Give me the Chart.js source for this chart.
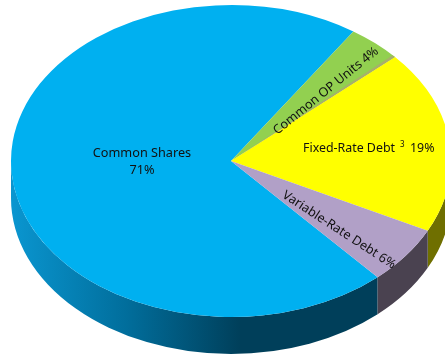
<!DOCTYPE html>
<html>
<head>
<meta charset="utf-8">
<script src="https://cdn.jsdelivr.net/npm/chart.js@4"></script>
<style>
    html,body{margin:0;padding:0;background:#fff;}
    #wrap{width:445px;height:361px;overflow:hidden;}
</style>
</head>
<body>
<div id="wrap"><canvas id="capChart" width="445" height="361"></canvas></div>
<script>
const categories = ['Common Shares','Common OP Units','Fixed-Rate Debt','Variable-Rate Debt'];
const shares = [71,4,19,6];
const topColors = ['#00B0F0','#92D050','#FFFF00','#B1A0C7'];
const wallColors = ['#003F5A','#4F7A2B','#6F6F00','#4A4250'];

// the pie is squashed vertically to look tilted
const tilt = 0.709;
const depth = 37;

function squash(chart){
    const arc = chart.getDatasetMeta(0).data[0];
    const ctx = chart.ctx;
    ctx.translate(arc.x,arc.y);
    ctx.scale(1,tilt);
    ctx.translate(-arc.x,-arc.y);
}

function drawWalls(chart){
    const ctx = chart.ctx;
    chart.getDatasetMeta(0).data.forEach((arc,i)=>{
        const r = arc.outerRadius;
        const ry = r*tilt;
        // only the part facing the viewer is visible, between 0 and PI
        for(const turn of [0,2*Math.PI]){
            const a0 = Math.max(arc.startAngle-turn,0);
            const a1 = Math.min(arc.endAngle-turn,Math.PI);
            if(a1<=a0) continue;
            ctx.beginPath();
            ctx.ellipse(arc.x,arc.y,r,ry,0,a0,a1);
            ctx.ellipse(arc.x,arc.y+depth,r,ry,0,a1,a0,true);
            ctx.closePath();
            if(i===0){
                const g = ctx.createLinearGradient(arc.x-r,0,arc.x+10,0);
                g.addColorStop(0,'#0A96D0');
                g.addColorStop(0.5,'#016E9C');
                g.addColorStop(1,wallColors[0]);
                ctx.fillStyle = g;
            }else{
                ctx.fillStyle = wallColors[i];
            }
            ctx.fill();
        }
    });
}

// thin grey sliver along the edge between OP units and fixed debt
function drawSliver(chart){
    const ctx = chart.ctx;
    const arc = chart.getDatasetMeta(0).data[1];
    ctx.beginPath();
    ctx.moveTo(arc.x,arc.y);
    ctx.arc(arc.x,arc.y,arc.outerRadius,arc.endAngle-0.016,arc.endAngle);
    ctx.closePath();
    ctx.fillStyle = '#A8B06A';
    ctx.fill();
}

const pie3d = {
    id:'pie3d',
    beforeDatasetsDraw(chart){
        drawWalls(chart);
        chart.ctx.save();
        squash(chart);
    },
    afterDatasetsDraw(chart){
        drawSliver(chart);
        chart.ctx.restore();
        drawLabels(chart);
    }
};

function label(ctx,text,x,y,angle){
    ctx.save();
    ctx.translate(x,y);
    ctx.rotate(angle*Math.PI/180);
    ctx.fillText(text,0,0);
    ctx.restore();
}

function drawLabels(chart){
    const ctx = chart.ctx;
    ctx.fillStyle = '#111';
    ctx.font = '12.7px "Noto Sans"';
    ctx.textAlign = 'center';
    ctx.textBaseline = 'middle';
    label(ctx,categories[0],142,153,0);
    label(ctx,shares[0]+'%',142,170,0);
    label(ctx,categories[1]+' '+shares[1]+'%',326,91,-39);
    label(ctx,categories[3]+' '+shares[3]+'%',339,230,33);

    // superscript footnote mark sits between the name and the value
    ctx.textAlign = 'left';
    ctx.font = '12.4px "Noto Sans"';
    ctx.fillText(categories[2],303,148);
    ctx.fillText(shares[2]+'%',410,148);
    ctx.font = '8px "Noto Sans"';
    ctx.fillText('3',400,145);
}

new Chart(document.getElementById('capChart'),{
    type:'pie',
    data:{
        labels:categories,
        datasets:[{
            data:shares,
            backgroundColor:topColors,
            borderWidth:0,
            clip:false
        }]
    },
    options:{
        responsive:false,
        animation:false,
        rotation:138.2,
        radius:220,
        layout:{padding:{left:17,bottom:39}},
        events:[],
        plugins:{legend:{display:false},tooltip:{enabled:false}}
    },
    plugins:[pie3d]
});
</script>
</body>
</html>
